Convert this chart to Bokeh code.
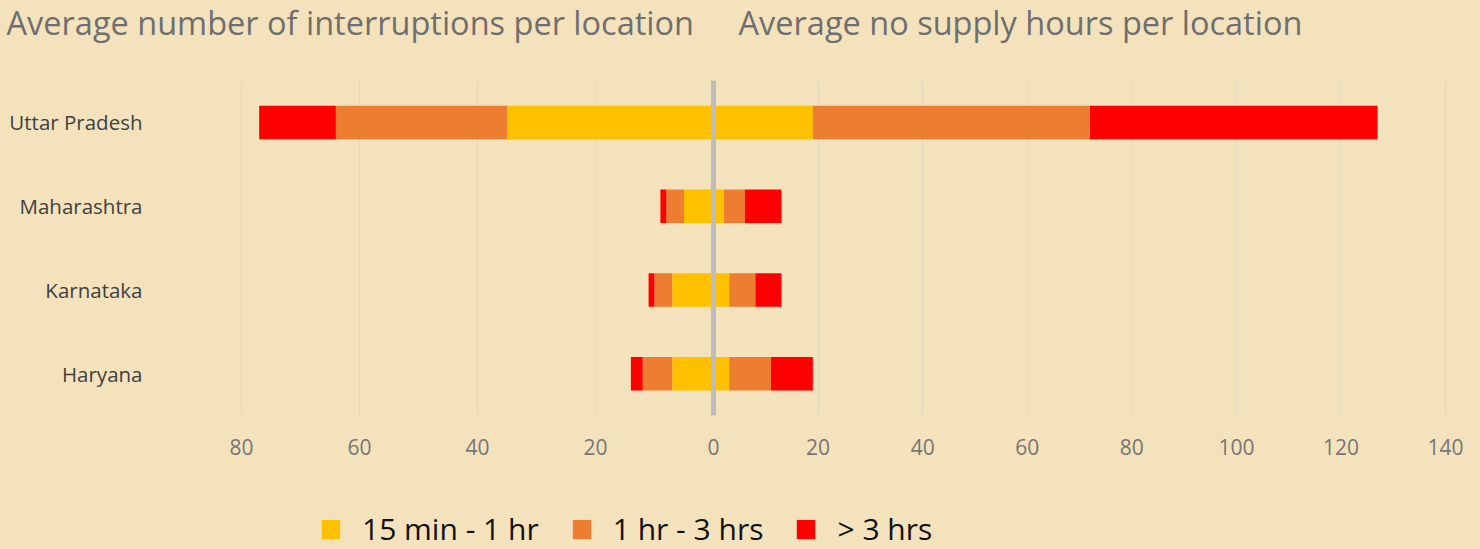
from bokeh.plotting import figure
from bokeh.models import (Range1d, FactorRange, FixedTicker, Span, Label, Legend,
                          LegendItem)
from bokeh.layouts import column
from bokeh.embed import file_html
from bokeh.resources import INLINE

# ---- data ----
states = ["Uttar Pradesh", "Maharashtra", "Karnataka", "Haryana"]
bands = ["15 min - 1 hr", "1 hr - 3 hrs", "> 3 hrs"]
# average number of interruptions per location (drawn leftwards)
int_15m_1h = [35, 5, 7, 7]
int_1h_3h = [29, 3, 3, 5]
int_gt_3h = [13, 1, 1, 2]
# average no-supply hours per location (drawn rightwards)
hrs_15m_1h = [19, 2, 3, 3]
hrs_1h_3h = [53, 4, 5, 8]
hrs_gt_3h = [55, 7, 5, 8]
int_ticks = [20, 40, 60, 80]
hrs_ticks = [0, 20, 40, 60, 80, 100, 120, 140]
titles = ["Average number of interruptions per location",
          "Average no supply hours per location"]

BG = "#F4E2BD"
COLORS = ["#FFC000", "#ED7D31", "#FF0000"]
FONT = "Open Sans"
W = 1480
H_TITLE, H_MAIN = 80, 400
H_LEG = 549 - H_TITLE - H_MAIN

# two scales sharing one frame, both with zero at the same place
HRS_RANGE = (-107.48, 141.9)
INT_RANGE = (95.25, -125.76)


def int_to_hrs(v):
    f = (v - INT_RANGE[0]) / (INT_RANGE[1] - INT_RANGE[0])
    return round(HRS_RANGE[0] + f * (HRS_RANGE[1] - HRS_RANGE[0]), 6)


def strip(height):
    s = figure(width=W, height=height, x_range=Range1d(0, 1), y_range=Range1d(0, 1),
               toolbar_location=None, output_backend="svg",
               x_axis_location=None, y_axis_location=None, min_border=0)
    s.frame_align = False
    s.background_fill_color = BG
    s.border_fill_color = BG
    s.outline_line_color = None
    s.grid.visible = False
    return s


# ---- title strip ----
pt = strip(H_TITLE)
for txt, xs in zip(titles, [6, 738]):
    pt.add_layout(Label(x=xs, y=58, x_units="screen", y_units="screen",
                        text=txt, text_font=FONT, text_font_size="32.5px",
                        text_color="#6F6F6F", text_baseline="alphabetic"))

# ---- main chart ----
p = figure(width=W, height=H_MAIN, x_range=Range1d(*HRS_RANGE),
           y_range=FactorRange(factors=list(reversed(states))),
           toolbar_location=None, output_backend="svg",
           min_border_left=151, min_border_right=25,
           min_border_top=0, min_border_bottom=H_MAIN - 335)
p.extra_x_ranges = {"int": Range1d(*INT_RANGE)}
p.background_fill_color = BG
p.border_fill_color = BG
p.outline_line_color = None
p.ygrid.grid_line_color = None

int_pos = [int_to_hrs(v) for v in int_ticks]
xa = p.xaxis[0]
xa.ticker = FixedTicker(ticks=int_pos + hrs_ticks)
xa.major_label_overrides = {pos: str(v) for pos, v in zip(int_pos, int_ticks)}
xa.axis_line_color = None
xa.major_tick_line_color = None
xa.minor_tick_line_color = None
xa.major_label_standoff = 17
xa.major_label_text_font = FONT
xa.major_label_text_font_size = "21px"
xa.major_label_text_color = "#767676"
p.xgrid.ticker = FixedTicker(ticks=int_pos + hrs_ticks[1:])
p.xgrid.grid_line_color = "#E3D7C0"
p.xgrid.grid_line_width = 1

ya = p.yaxis[0]
ya.axis_line_color = None
ya.major_tick_line_color = None
ya.minor_tick_line_color = None
ya.major_label_standoff = 3
ya.major_label_text_font = FONT
ya.major_label_text_font_size = "20.5px"
ya.major_label_text_color = "#404040"

src_l = dict(state=states, a=int_15m_1h, b=int_1h_3h, c=int_gt_3h)
p.hbar_stack(["a", "b", "c"], y="state", height=0.4, color=COLORS,
             line_color=None, source=src_l, x_range_name="int")
src_r = dict(state=states, a=hrs_15m_1h, b=hrs_1h_3h, c=hrs_gt_3h)
p.hbar_stack(["a", "b", "c"], y="state", height=0.4, color=COLORS,
             line_color=None, source=src_r)
p.add_layout(Span(location=0, dimension="height", line_color="#BDBDBD", line_width=5))

# ---- legend strip ----
pg = strip(H_LEG)
items = []
for name, col in zip(bands, COLORS):
    # zero-size proxy glyph: only used to draw the legend swatch
    r = pg.hbar(y=[0], left=[0], right=[0], height=0, color=col, line_color=None)
    items.append(LegendItem(label=name, renderers=[r]))
leg = Legend(items=items, orientation="horizontal", location=(319, 0),
             glyph_width=23, glyph_height=24, label_standoff=20, spacing=31,
             padding=0, margin=0, border_line_color=None, background_fill_alpha=0,
             label_text_font=FONT, label_text_font_size="30px", label_text_color="#111111")
pg.add_layout(leg)

layout = column(pt, p, pg)

html = file_html(layout, INLINE)
html = html.replace("<head>", "<head><style>body{background-color:%s;}</style>" % BG, 1)
open("out.html", "w").write(html)
